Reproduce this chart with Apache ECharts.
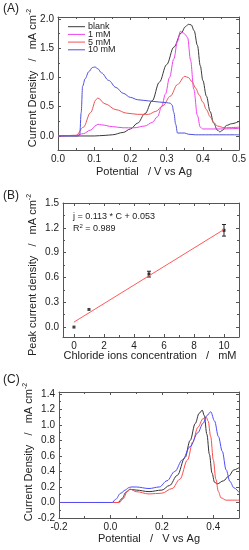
<!DOCTYPE html>
<html><head><meta charset="utf-8">
<script src="https://cdn.jsdelivr.net/npm/echarts@6/dist/echarts.min.js"></script>
<style>html,body{margin:0;padding:0;background:#fff}#c{width:249px;height:550px}</style>
</head><body><div id="c"></div>
<script>
// ---------- Panel A data ----------
const blankX = [0,0.05,0.10,0.13,0.15,0.18,0.20,0.22,0.24,0.26,0.28,0.30,0.32,0.34,0.352,0.36,0.368,0.376,0.385,0.393,0.40,0.41,0.42,0.43,0.44,0.447,0.455,0.465,0.48,0.50];
const blankY = [0,0,0,0.01,0.02,0.06,0.12,0.22,0.38,0.6,0.92,1.22,1.52,1.76,1.87,1.91,1.9,1.8,1.55,1.2,0.95,0.68,0.42,0.22,0.1,0.07,0.1,0.18,0.21,0.25];
const mM1X = [0,0.05,0.07,0.09,0.105,0.11,0.12,0.15,0.18,0.21,0.24,0.26,0.275,0.286,0.297,0.308,0.32,0.33,0.338,0.345,0.352,0.358,0.366,0.375,0.385,0.393,0.40,0.45,0.50];
const mM1Y = [0,0.01,0.04,0.1,0.18,0.2,0.19,0.16,0.14,0.14,0.17,0.23,0.33,0.5,0.72,1.0,1.32,1.62,1.79,1.77,1.73,1.68,1.3,0.8,0.35,0.15,0.12,0.12,0.13];
const mM5X = [0,0.05,0.07,0.09,0.105,0.11,0.13,0.16,0.19,0.22,0.25,0.27,0.29,0.31,0.33,0.35,0.36,0.37,0.38,0.39,0.40,0.41,0.42,0.43,0.44,0.46,0.50];
const mM5Y = [0,0.01,0.15,0.4,0.62,0.65,0.55,0.45,0.39,0.37,0.37,0.42,0.52,0.68,0.88,1.02,1.0,0.93,0.82,0.7,0.58,0.45,0.33,0.23,0.17,0.14,0.15];
const mM10X = [0,0.055,0.06,0.064,0.068,0.075,0.085,0.095,0.102,0.11,0.12,0.14,0.16,0.18,0.20,0.22,0.25,0.28,0.30,0.31,0.315,0.32,0.325,0.33,0.34,0.35,0.36,0.38,0.50];
const mM10Y = [0,0,0.02,0.4,0.85,0.98,1.1,1.17,1.18,1.15,1.08,0.95,0.83,0.73,0.66,0.62,0.6,0.58,0.57,0.56,0.53,0.4,0.2,0.05,0.05,0.05,0.03,0.02,0.02];
const seriesNamesA = ['blank','1 mM','5 mM','10 mM'];

// ---------- Panel B data ----------
const concX = [0,1,5,10];
const peakY = [0.0,0.213,0.64,1.17];
const peakErr = [0,0.005,0.035,0.07];
const fitX = [0,10];
const fitY = [0.06,1.18];

// ---------- Panel C data ----------
const cBlackX = [-0.2,0.0,0.03,0.045,0.06,0.075,0.1,0.15,0.2,0.23,0.26,0.29,0.31,0.33,0.345,0.357,0.365,0.375,0.385,0.395,0.405,0.415,0.44,0.46,0.48,0.5];
const cBlackY = [0,0,0,0.05,0.13,0.17,0.16,0.14,0.16,0.22,0.35,0.58,0.8,1.02,1.15,1.19,1.12,0.88,0.62,0.38,0.26,0.24,0.28,0.34,0.42,0.45];
const cRedX = [-0.2,0.0,0.035,0.05,0.065,0.078,0.1,0.15,0.2,0.24,0.27,0.3,0.32,0.34,0.36,0.373,0.38,0.39,0.40,0.41,0.42,0.43,0.45,0.5];
const cRedY = [0,0,0,0.05,0.14,0.17,0.14,0.11,0.12,0.18,0.3,0.55,0.78,0.97,1.08,1.1,1.05,0.85,0.55,0.3,0.14,0.06,0.03,0.03];
const cBlueX = [-0.2,0.0,0.007,0.02,0.04,0.058,0.07,0.08,0.1,0.15,0.19,0.22,0.25,0.28,0.31,0.34,0.36,0.375,0.39,0.405,0.42,0.435,0.45,0.465,0.48,0.5];
const cBlueY = [0,0,0,0.04,0.12,0.16,0.19,0.2,0.2,0.18,0.2,0.28,0.4,0.55,0.72,0.9,1.02,1.12,1.17,1.05,0.85,0.66,0.42,0.27,0.19,0.13];

// ---------- Ticks ----------
const aXTicks = [0,0.1,0.2,0.3,0.4,0.5], aXMinor = [0.05,0.15,0.25,0.35,0.45];
const aYTicks = [0,0.5,1.0,1.5,2.0], aYMinor = [-0.25,0.25,0.75,1.25,1.75];
const bXTicks = [0,2,4,6,8,10], bXMinor = [1,3,5,7,9];
const bYTicks = [0,0.3,0.6,0.9,1.2,1.5], bYMinor = [0.15,0.45,0.75,1.05,1.35];
const cXTicks = [-0.2,0.0,0.2,0.4], cXMinor = [-0.1,0.1,0.3,0.5];
const cYTicks = [-0.2,0,0.2,0.4,0.6,0.8,1.0,1.2,1.4], cYMinor = [-0.1,0.1,0.3,0.5,0.7,0.9,1.1,1.3];

const zip = (xs, ys) => xs.map((x, i) => [x, ys[i]]);
const FONT = 'Liberation Sans, Arial, sans-serif';
const AX = '#555', TXT = '#222';

const grids = [
  {left: 58, top: 17, width: 189, height: 133},
  {left: 63, top: 203, width: 176, height: 134},
  {left: 59, top: 392, width: 180, height: 126}
];
const xAxes = [], yAxes = [];
function addAxes(list, isX, g, min, max, major, minor, fmt) {
  const pos = isX ? ['bottom','top'] : ['left','right'];
  const base = {type: 'value', gridIndex: g, min, max, splitLine: {show: false}};
  const idx = list.length;
  list.push(Object.assign({}, base, {position: pos[0],
    axisLine: {show: true, onZero: false, lineStyle: {color: AX, width: 1}},
    axisTick: {show: true, inside: true, length: 3, customValues: major, lineStyle: {color: AX}},
    axisLabel: {show: true, customValues: major, formatter: fmt, fontSize: 10, color: TXT, fontFamily: FONT, margin: 4}}));
  list.push(Object.assign({}, base, {position: pos[1],
    axisLine: {show: true, onZero: false, lineStyle: {color: AX, width: 1}},
    axisTick: {show: true, inside: true, length: 3, customValues: major, lineStyle: {color: AX}},
    axisLabel: {show: false}}));
  [pos[0], pos[1]].forEach(p => list.push(Object.assign({}, base, {position: p,
    axisLine: {show: false, onZero: false},
    axisTick: {show: true, inside: true, length: 2, customValues: minor, lineStyle: {color: AX}},
    axisLabel: {show: false}})));
  return idx;
}
const f1 = v => v.toFixed(1);
const f0 = v => String(Math.round(v));
const axA = addAxes(xAxes, true, 0, 0, 0.5, aXTicks, aXMinor, f1);
const ayA = addAxes(yAxes, false, 0, -0.24, 2.035, aYTicks, aYMinor, f1);
const axB = addAxes(xAxes, true, 1, -0.73, 11, bXTicks, bXMinor, f0);
const ayB = addAxes(yAxes, false, 1, -0.12, 1.5, bYTicks, bYMinor, f1);
const axC = addAxes(xAxes, true, 2, -0.2, 0.5, cXTicks, cXMinor, f1);
const ayC = addAxes(yAxes, false, 2, -0.2, 1.425, cYTicks, cYMinor, f1);

const line = (name, data, color, xi, yi) => ({
  type: 'line', name, data, xAxisIndex: xi, yAxisIndex: yi, symbol: 'none', color,
  smooth: 0.35, smoothMonotone: 'x', lineStyle: {color, width: 1}, itemStyle: {color}, silent: true, animation: false
});
const colA = ['#3a3a3a', '#ee44ee', '#ee5555', '#5050dd'];
const series = [
  line(seriesNamesA[0], zip(blankX, blankY), colA[0], axA, ayA),
  line(seriesNamesA[1], zip(mM1X, mM1Y), colA[1], axA, ayA),
  line(seriesNamesA[2], zip(mM5X, mM5Y), colA[2], axA, ayA),
  line(seriesNamesA[3], zip(mM10X, mM10Y), colA[3], axA, ayA),
  Object.assign(line('fit', zip(fitX, fitY), '#ff5a5a', axB, ayB), {smooth: false}),
  {type: 'scatter', data: zip(concX, peakY), xAxisIndex: axB, yAxisIndex: ayB, symbol: 'rect', symbolSize: 3,
   itemStyle: {color: '#111'}, silent: true, animation: false},
  {type: 'custom', xAxisIndex: axB, yAxisIndex: ayB, silent: true, animation: false,
   data: concX.map((x, i) => [x, peakY[i] - peakErr[i], peakY[i] + peakErr[i], peakErr[i]]),
   renderItem: (params, api) => {
     if (api.value(3) < 0.02) return null;
     const lo = api.coord([api.value(0), api.value(1)]);
     const hi = api.coord([api.value(0), api.value(2)]);
     const st = {stroke: '#222', lineWidth: 1};
     return {type: 'group', children: [
       {type: 'line', shape: {x1: lo[0], y1: lo[1], x2: hi[0], y2: hi[1]}, style: st},
       {type: 'line', shape: {x1: lo[0]-2, y1: lo[1], x2: lo[0]+2, y2: lo[1]}, style: st},
       {type: 'line', shape: {x1: hi[0]-2, y1: hi[1], x2: hi[0]+2, y2: hi[1]}, style: st}
     ]};
   }},
  line('cBlack', zip(cBlackX, cBlackY), '#333333', axC, ayC),
  line('cRed', zip(cRedX, cRedY), '#ff4d4d', axC, ayC),
  line('cBlue', zip(cBlueX, cBlueY), '#4d4dff', axC, ayC)
];

const txt = (x, y, text, size) => ({type: 'text', left: x, top: y, silent: true,
  style: {text, fontSize: size, fontFamily: FONT, fill: TXT}});
const rtxt = (cx, cy, text) => ({type: 'text', x: cx, y: cy, rotation: Math.PI / 2, silent: true,
  style: {text, fontSize: 11, fontFamily: FONT, fill: TXT, align: 'center', verticalAlign: 'middle',
    rich: {s: {fontSize: 7, fontFamily: FONT, fill: TXT, padding: [0, 0, 7, 0]}}}});

// legend (drawn as graphic group: sample line + label per series)
const legendItems = seriesNamesA.map((n, i) => ({type: 'group', x: 68, y: 26.7 + i * 7.7, silent: true, children: [
  {type: 'line', shape: {x1: 0, y1: 0, x2: 17, y2: 0}, style: {stroke: colA[i], lineWidth: 1}},
  {type: 'text', x: 20, y: 0, style: {text: n, fontSize: 9, fontFamily: FONT, fill: TXT, verticalAlign: 'middle'}}
]}));

const graphic = [
  txt(3, 3, '(A)', 12), txt(3, 190, '(B)', 12), txt(3, 374, '(C)', 12),
  {type: 'text', x: 144, y: 172, silent: true, style: {text: 'Potential   / V vs Ag', fontSize: 11, fontFamily: FONT, fill: TXT, align: 'center', verticalAlign: 'middle'}},
  {type: 'text', x: 150, y: 356, silent: true, style: {text: 'Chloride ions concentration   /   mM', fontSize: 11, fontFamily: FONT, fill: TXT, align: 'center', verticalAlign: 'middle'}},
  {type: 'text', x: 149, y: 539, silent: true, style: {text: 'Potential   /   V vs Ag', fontSize: 11, fontFamily: FONT, fill: TXT, align: 'center', verticalAlign: 'middle'}},
  rtxt(33, 78, 'Current Density   /   mA cm{s|-2}'),
  rtxt(33, 275, 'Peak current density   /   mA cm{s|-2}'),
  rtxt(29, 452, 'Current Density   /   mA cm{s|-2}'),
  txt(73, 212, 'j = 0.113 * C + 0.053', 9),
  {type: 'text', left: 73, top: 223, silent: true, style: {text: 'R{s|2} = 0.989', fontSize: 9, fontFamily: FONT, fill: TXT,
    rich: {s: {fontSize: 6, fontFamily: FONT, fill: TXT, padding: [0, 0, 5, 0]}}}}
].concat(legendItems);

const chart = echarts.init(document.getElementById('c'), null, {renderer: 'canvas'});
chart.setOption({
  animation: false,
  backgroundColor: '#fff',
  color: colA,
  grid: grids,
  xAxis: xAxes,
  yAxis: yAxes,
  series,
  graphic
});
</script></body></html>
